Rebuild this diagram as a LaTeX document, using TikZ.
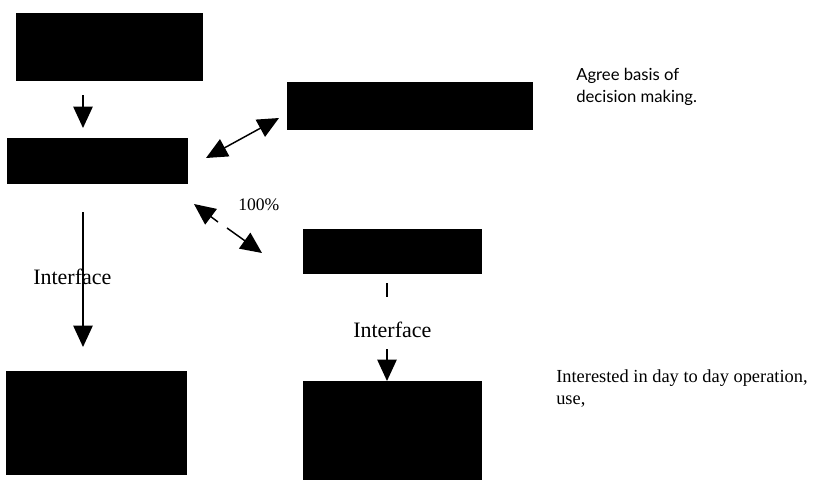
\documentclass[tikz,border=0pt]{standalone}
\usepackage{fontspec}
\setmainfont{Liberation Serif}
\newfontfamily\notefont{Lato}
\usetikzlibrary{arrows.meta}

\tikzset{
  tip/.tip={Triangle[width=14.5pt,length=16pt]},
  block/.style={fill=black, draw=black, inner sep=0pt, anchor=north west},
  arr/.style={line width=1.1pt, -tip},
  dblarr/.style={line width=1.1pt, tip-tip},
  plain/.style={line width=1.1pt},
  label/.style={anchor=base west, inner sep=0pt, font=\fontsize{16.5pt}{20pt}\selectfont},
  note/.style={anchor=base west, inner sep=0pt, align=left},
}

\begin{document}
\begin{tikzpicture}[x=0.75pt, y=-0.75pt]
  \useasboundingbox (0,0) rectangle (814,479);

  % black blocks
  \node[block, minimum width=186*0.75pt, minimum height=67*0.75pt] (A) at (16,13) {};
  \node[block, minimum width=180*0.75pt, minimum height=45*0.75pt] (B) at (7,138) {};
  \node[block, minimum width=245*0.75pt, minimum height=47*0.75pt] (C) at (287,82) {};
  \node[block, minimum width=178*0.75pt, minimum height=44*0.75pt] (D) at (303,229) {};
  \node[block, minimum width=180*0.75pt, minimum height=103*0.75pt] (E) at (6,371) {};
  \node[block, minimum width=178*0.75pt, minimum height=99*0.75pt] (F) at (303,381) {};

  % connector end points
  \coordinate (a1) at (83,95);
  \coordinate (a2) at (83,128);
  \coordinate (b1) at (206,158);
  \coordinate (b2) at (279,118);
  \coordinate (d1) at (194,204);
  \coordinate (d2) at (218,222);
  \coordinate (d3) at (227,228);
  \coordinate (d4) at (262,253);
  \coordinate (e1) at (83,212);
  \coordinate (e2) at (83,347);
  \coordinate (f1) at (387,283);
  \coordinate (f2) at (387,297);
  \coordinate (f3) at (387,349);
  \coordinate (f4) at (387,381);

  % connectors
  \draw[arr] (a1) -- (a2);
  \draw[dblarr] (b1) -- (b2);
  \draw[arr] (d2) -- (d1);
  \draw[arr] (d3) -- (d4);
  \draw[arr] (e1) -- (e2);
  \draw[plain] (f1) -- (f2);
  \draw[arr] (f3) -- (f4);

  % labels
  \node[label] (i1) at (33,284) {Interface};
  \node[label] (i2) at (353,337) {Interface};
  \node[note, font=\fontsize{13.2pt}{16pt}\selectfont] (pct) at (238,210) {100\%};

  \node[note, font=\notefont\fontsize{12.5pt}{16.5pt}\selectfont] (n1) at (576,102)
    {Agree basis of\\decision making.};
  \node[note, font=\fontsize{13.8pt}{15.8pt}\selectfont] (n2) at (556,404)
    {Interested in day to day operation,\\use,};
\end{tikzpicture}
\end{document}
